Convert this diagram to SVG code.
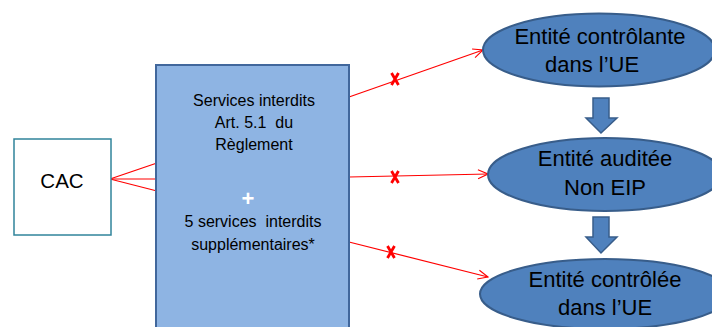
<svg xmlns="http://www.w3.org/2000/svg" width="712" height="327" viewBox="0 0 712 327">
<style>
.t{font-family:"Liberation Sans",Arial,sans-serif;fill:#000;text-anchor:middle}
.box{font-size:16px}
.ell{font-size:22px}
.entity{fill:#4f81bd;stroke:#385d8a;stroke-width:2}
.down{fill:#4f81bd;stroke:#385d8a;stroke-width:1.5}
.red{stroke:#ff0000;stroke-width:1.2;fill:none}
.xm{stroke:#ff0000;stroke-width:2.8;fill:none;stroke-linecap:butt}
</style>
<defs>
<marker id="open" viewBox="0 0 12 12" refX="11" refY="6" markerWidth="12" markerHeight="12" markerUnits="userSpaceOnUse" orient="auto">
<path d="M1,1.5 L11,6 L1,10.5" fill="none" stroke="#ff0000" stroke-width="1.1"/>
</marker>
</defs>
<rect width="712" height="327" fill="#fff"/>

<g id="connectors">
<line class="red" x1="110" y1="179" x2="157" y2="163"/>
<line class="red" x1="110" y1="179" x2="157" y2="179"/>
<line class="red" x1="110" y1="179" x2="157" y2="191"/>
<line class="red" x1="349" y1="97" x2="483" y2="50" marker-end="url(#open)"/>
<line class="red" x1="349" y1="177" x2="488" y2="174" marker-end="url(#open)"/>
<line class="red" x1="349" y1="242" x2="488" y2="277" marker-end="url(#open)"/>
<path class="xm" d="M391.5,73 L398.5,85 M398.5,73 L391.5,85"/>
<path class="xm" d="M391.5,171 L398.5,183 M398.5,171 L391.5,183"/>
<path class="xm" d="M387.5,246 L394.5,258 M394.5,246 L387.5,258"/>
<path class="down" d="M593,98 L609,98 L609,118 L617,118 L601,133 L586,118 L593,118 Z"/>
<path class="down" d="M593,217 L609,217 L609,237 L617,237 L601,253 L586,237 L593,237 Z"/>
</g>

<g id="cac">
<rect x="14" y="139" width="97" height="96" fill="#fff" stroke="#31849b" stroke-width="1.5"/>
<text class="t" x="62" y="188" font-size="20.5">CAC</text>
</g>

<g id="services">
<rect x="156" y="65" width="193" height="275" fill="#8eb4e3" stroke="#41679c" stroke-width="2"/>
<text class="t box" x="254" y="106">Services interdits</text>
<text class="t box" x="254" y="128" xml:space="preserve">Art. 5.1  du</text>
<text class="t box" x="254" y="150">Règlement</text>
<text class="t" x="248" y="206" font-size="22" font-weight="bold" style="fill:#fff">+</text>
<text class="t box" x="253" y="227" xml:space="preserve">5 services  interdits</text>
<text class="t box" x="253" y="250">supplémentaires*</text>
</g>

<g id="controlante">
<ellipse class="entity" cx="599" cy="50" rx="116" ry="36.5"/>
<text class="t ell" x="600" y="44">Entité contrôlante</text>
<text class="t ell" x="592" y="72">dans l’UE</text>
</g>

<g id="auditee">
<ellipse class="entity" cx="605" cy="174.5" rx="117" ry="36.5"/>
<text class="t ell" x="605" y="166">Entité auditée</text>
<text class="t ell" x="605" y="195">Non EIP</text>
</g>

<g id="controlee">
<ellipse class="entity" cx="605" cy="294" rx="125" ry="35"/>
<text class="t ell" x="605" y="287">Entité contrôlée</text>
<text class="t ell" x="605" y="315">dans l’UE</text>
</g>
</svg>
